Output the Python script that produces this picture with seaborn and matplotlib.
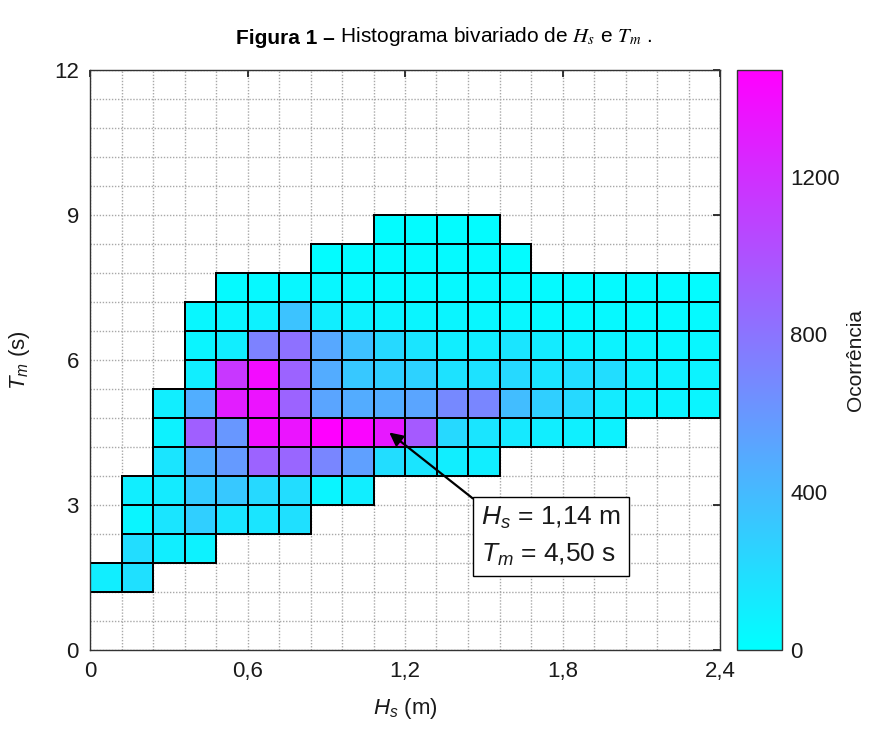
import numpy as np
import pandas as pd
import matplotlib
matplotlib.use("Agg")
import matplotlib.pyplot as plt
import seaborn as sns
from matplotlib.ticker import MultipleLocator
from matplotlib.collections import QuadMesh

# ---------------- data ----------------
hs_edges = [0.0, 0.12, 0.24, 0.36, 0.48, 0.60, 0.72, 0.84, 0.96, 1.08, 1.20,
            1.32, 1.44, 1.56, 1.68, 1.80, 1.92, 2.04, 2.16, 2.28, 2.40]
tm_edges = [0.0, 0.6, 1.2, 1.8, 2.4, 3.0, 3.6, 4.2, 4.8, 5.4, 6.0,
            6.6, 7.2, 7.8, 8.4, 9.0, 9.6, 10.2, 10.8, 11.4, 12.0]
hs_centers = [0.06, 0.18, 0.30, 0.42, 0.54, 0.66, 0.78, 0.90, 1.02, 1.14,
              1.26, 1.38, 1.50, 1.62, 1.74, 1.86, 1.98, 2.10, 2.22, 2.34]

# occurrences per Hs bin, one list per Tm bin (bin centre in name)
tm_1_5 = [100, 180, 0, 0, 0, 0, 0, 0, 0, 0, 0, 0, 0, 0, 0, 0, 0, 0, 0, 0]
tm_2_1 = [0, 200, 100, 80, 0, 0, 0, 0, 0, 0, 0, 0, 0, 0, 0, 0, 0, 0, 0, 0]
tm_2_7 = [0, 60, 150, 280, 150, 150, 180, 0, 0, 0, 0, 0, 0, 0, 0, 0, 0, 0, 0, 0]
tm_3_3 = [0, 100, 120, 300, 320, 220, 200, 60, 100, 0, 0, 0, 0, 0, 0, 0, 0, 0, 0, 0]
tm_3_9 = [0, 0, 150, 480, 580, 900, 880, 700, 550, 200, 150, 100, 100, 0, 0, 0, 0, 0, 0, 0]
tm_4_5 = [0, 0, 80, 920, 600, 1380, 1350, 1470, 1440, 1330, 950, 220, 150, 130, 100, 90, 80, 0, 0, 0]
tm_5_1 = [0, 0, 100, 470, 1300, 1360, 900, 520, 480, 480, 520, 680, 700, 380, 280, 220, 120, 80, 70, 60]
tm_5_7 = [0, 0, 0, 100, 1150, 1400, 900, 480, 320, 280, 260, 170, 170, 220, 160, 200, 200, 100, 80, 70]
tm_6_3 = [0, 0, 0, 60, 100, 720, 820, 500, 360, 220, 150, 100, 100, 150, 120, 80, 70, 60, 50, 50]
tm_6_9 = [0, 0, 0, 50, 60, 80, 350, 100, 80, 70, 60, 60, 50, 50, 40, 40, 40, 30, 30, 30]
tm_7_5 = [0, 0, 0, 0, 30, 40, 50, 50, 40, 40, 40, 40, 40, 40, 30, 30, 30, 30, 30, 20]
tm_8_1 = [0, 0, 0, 0, 0, 0, 0, 20, 30, 30, 30, 30, 30, 20, 0, 0, 0, 0, 0, 0]
tm_8_7 = [0, 0, 0, 0, 0, 0, 0, 0, 0, 20, 20, 20, 20, 0, 0, 0, 0, 0, 0, 0]

tm_rows = {1.5: tm_1_5, 2.1: tm_2_1, 2.7: tm_2_7, 3.3: tm_3_3, 3.9: tm_3_9,
           4.5: tm_4_5, 5.1: tm_5_1, 5.7: tm_5_7, 6.3: tm_6_3, 6.9: tm_6_9,
           7.5: tm_7_5, 8.1: tm_8_1, 8.7: tm_8_7}

x_ticks = [0, 0.6, 1.2, 1.8, 2.4]
x_ticklabels = ["0", "0,6", "1,2", "1,8", "2,4"]
y_ticks = [0, 3, 6, 9, 12]
y_ticklabels = ["0", "3", "6", "9", "12"]
cbar_ticks = [0, 400, 800, 1200]
count_max = 1470

mode_hs = 1.14
mode_tm = 4.50

# long table for seaborn
recs = []
for tm, row in tm_rows.items():
    for hs, n in zip(hs_centers, row):
        if n > 0:
            recs.append({"Hs": hs, "Tm": tm, "n": n})
df = pd.DataFrame(recs)

# ---------------- style ----------------
sns.set_theme(style="white")
fam = ["Liberation Sans", "DejaVu Sans"]
plt.rcParams["font.family"] = fam
plt.rcParams["mathtext.fontset"] = "custom"
plt.rcParams["mathtext.rm"] = "Liberation Sans"
plt.rcParams["mathtext.it"] = "Liberation Sans:italic"
plt.rcParams["mathtext.bf"] = "Liberation Sans:bold"
plt.rcParams["text.color"] = "#1a1a1a"
plt.rcParams["axes.labelcolor"] = "#1a1a1a"

W, H = 875, 743
fig = plt.figure(figsize=(W / 100, H / 100), dpi=100)
ax = fig.add_axes([90 / W, 1 - 650 / H, 630 / W, 580 / H])
cax = fig.add_axes([737 / W, 1 - 650 / H, 45 / W, 580 / H])

sns.histplot(data=df, x="Hs", y="Tm", weights="n",
             bins=[hs_edges, tm_edges], cmap="cool",
             vmin=0, vmax=count_max,
             cbar=True, cbar_ax=cax, cbar_kws={"ticks": cbar_ticks},
             ax=ax)

# black borders only around the filled (non-masked) cells
for coll in ax.collections:
    if isinstance(coll, QuadMesh):
        arr = np.ma.getmaskarray(coll.get_array()).ravel()
        ec = np.zeros((arr.size, 4))
        ec[~arr] = [0, 0, 0, 1]
        coll.set_edgecolors(ec)
        coll.set_linewidth(1.3)

ax.set_xlim(0, 2.4)
ax.set_ylim(0, 12)
ax.set_xticks(x_ticks)
ax.set_xticklabels(x_ticklabels)
ax.set_yticks(y_ticks)
ax.set_yticklabels(y_ticklabels)
ax.xaxis.set_minor_locator(MultipleLocator(0.12))
ax.yaxis.set_minor_locator(MultipleLocator(0.6))
ax.set_axisbelow(True)
ax.grid(which="both", linestyle=(0, (1, 1.2)), color="#a8a8a8", linewidth=1.0)
ax.tick_params(which="major", direction="in", length=5, top=True, right=True,
               labelsize=16, colors="#1a1a1a", pad=8)
ax.tick_params(which="minor", length=0)
for s in ax.spines.values():
    s.set_color("#333333")
    s.set_linewidth(1.0)

ax.set_xlabel("$H_s$ (m)", fontsize=16, labelpad=10)
ax.set_ylabel("$T_m$ (s)", fontsize=16, labelpad=16)

cax.tick_params(direction="in", length=5, right=True, left=False,
                labelsize=16, colors="#1a1a1a", pad=6)
cax.set_ylabel("Ocorrência", fontsize=15, labelpad=4)
for s in cax.spines.values():
    s.set_linewidth(1.0)
    s.set_color("#333333")

label = f"$H_s$ = {mode_hs:.2f} m\n$T_m$ = {mode_tm:.2f} s".replace(".", ",")
ax.annotate(label, xy=(mode_hs, mode_tm), xytext=(1.49, 3.0),
            ha="left", va="top", fontsize=19, linespacing=1.55,
            bbox=dict(boxstyle="square,pad=0.3", fc="white", ec="black", lw=1.0),
            arrowprops=dict(arrowstyle="-|>", color="black", lw=1.6,
                            relpos=(0, 1), mutation_scale=20,
                            shrinkA=0, shrinkB=0))

# title (bold part + regular part with serif math)
t1 = fig.text(236 / W, 1 - 44 / H, "Figura 1 –", fontsize=15, fontweight="bold",
              family=fam, color="black", ha="left", va="baseline")
ax.annotate(" Histograma bivariado de $H_s$ e $T_m$ .", xy=(1, 0), xycoords=t1,
            ha="left", va="bottom", fontsize=15, color="black",
            family=fam, math_fontfamily="stix", annotation_clip=False)

fig.savefig("out.png", dpi=100)
